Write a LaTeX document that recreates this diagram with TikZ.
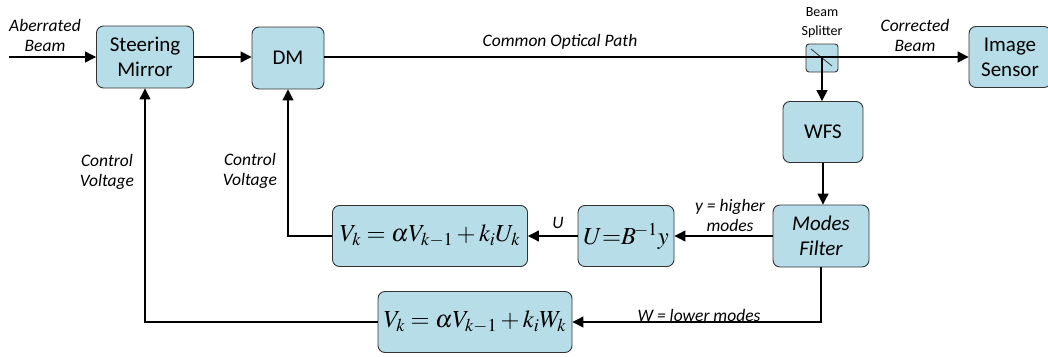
\documentclass[tikz,border=0pt]{standalone}
\usepackage{mathptmx}
\usepackage{fontspec}
\setmainfont{Carlito}
\usetikzlibrary{arrows.meta}
\definecolor{boxblue}{HTML}{B7DEE8}
\definecolor{edge}{HTML}{333333}
\tikzset{
  blk/.style={draw=edge, fill=boxblue, rounded corners=7pt, line width=0.9pt, inner sep=0pt, align=center,
    font=\fontsize{21}{25}\selectfont},
  eqn/.style={blk, font=\fontsize{24.5}{28}\selectfont},
  lbl/.style={align=center, inner sep=0pt, font=\fontsize{17.5}{20}\selectfont\itshape},
  conn/.style={line width=1.2pt, -{Triangle[length=11pt,width=11pt]}},
  plain/.style={line width=1.2pt}
}
\begin{document}
\begin{tikzpicture}[x=1pt,y=-1pt]
\useasboundingbox (0,0) rectangle (1048,356);
\node[blk, minimum width=97pt, minimum height=62pt] (sm) at (145,57) {Steering\\Mirror};
\node[blk, minimum width=72pt, minimum height=62pt] (dm) at (288,58) {DM};
\node[blk, minimum width=82pt, minimum height=61pt] (ims) at (1010,57) {Image\\Sensor};
\node[blk, minimum width=80pt, minimum height=61pt] (wfs) at (823,132) {WFS};
\node[blk, minimum width=96pt, minimum height=62pt, font=\fontsize{21}{25}\selectfont\itshape] (mf) at (821,236) {Modes\\Filter};
\node[eqn, minimum width=96pt, minimum height=61pt] (ub) at (626,236) {$U{=}B^{\mkern-2mu-1}y$};
\node[eqn, minimum width=195pt, minimum height=61pt] (vk1) at (430,236) {$V_k=\alpha V_{k-1}+k_iU_k$};
\node[eqn, minimum width=194pt, minimum height=61pt] (vk2) at (475,322) {$V_k=\alpha V_{k-1}+k_iW_k$};
\node[blk, rounded corners=3pt, minimum width=32pt, minimum height=28pt] (bs) at (822,58) {};
\draw[line width=0.8pt, edge] (811,49) -- (832,66);

\coordinate (ab) at (9,57);
\draw[conn] (ab) -- (sm.west);
\draw[conn] (sm.east) -- (dm.west |- sm.east);
\draw[conn] (dm.east |- ims.west) -- (ims.west);
\draw[conn] (bs.center) -- (wfs.north -| bs.center);
\draw[conn] (wfs.south) -- (mf.north -| wfs.south);
\draw[conn] (mf.west) -- (ub.east);
\draw[conn] (ub.west) -- (vk1.east);
\draw[conn] (vk1.west) -| (dm.south);
\draw[conn] (mf.south) |- (vk2.east);
\draw[conn] (vk2.west) -| (sm.south);

\node[lbl] (l1) at (45,35) {Aberrated\\Beam};
\node[lbl] (l2) at (560,42) {Common Optical Path};
\node[align=center, inner sep=0pt, font=\fontsize{14}{19}\selectfont] (l3) at (822,23) {Beam\\Splitter};
\node[lbl] (l4) at (915,35) {Corrected\\Beam};
\node[lbl] (l5) at (107,172) {Control\\Voltage};
\node[lbl] (l6) at (250,171) {Control\\Voltage};
\node[lbl] (l7) at (558,223) {U};
\node[lbl] (l8) at (730,215) {y = higher\\modes};
\node[lbl] (l9) at (699,315) {W = lower modes};
\end{tikzpicture}
\end{document}
